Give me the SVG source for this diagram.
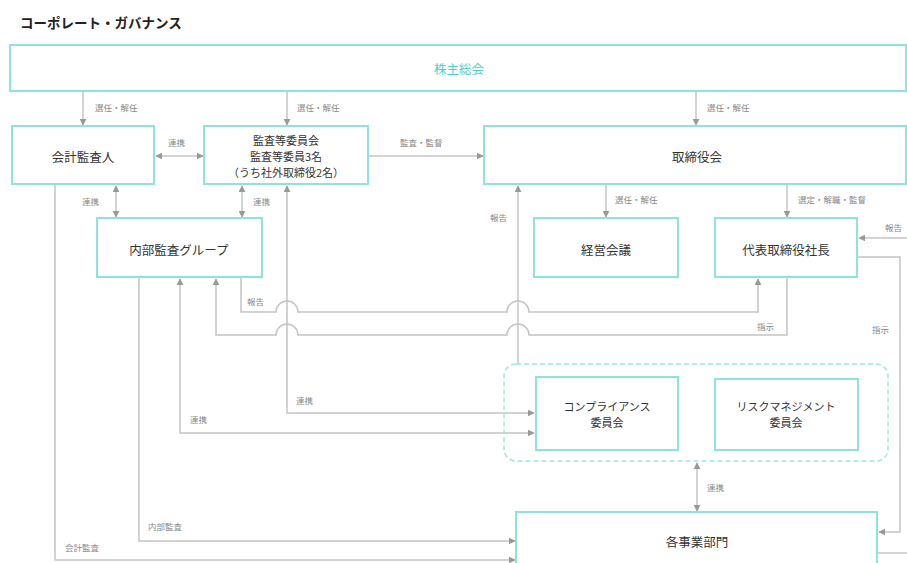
<svg xmlns="http://www.w3.org/2000/svg" width="907" height="563" viewBox="0 0 907 563">
<defs>
<style>
.box{fill:#fff;stroke:#8ee3db;stroke-width:2}
.grp{fill:none;stroke:#9fe6df;stroke-width:1.5;stroke-dasharray:5 3}
.t{font-family:"Noto Sans CJK JP","Liberation Sans",sans-serif;font-size:12.5px;fill:#333;text-anchor:middle;dominant-baseline:central}
.t2{font-size:11px}
.lb{font-family:"Noto Sans CJK JP","Liberation Sans",sans-serif;font-size:8.5px;fill:#888}
.c{fill:none;stroke:#c4c4c4;stroke-width:1.5}
</style>
<marker id="a" viewBox="0 0 10 10" refX="9" refY="5" markerWidth="7" markerHeight="7" markerUnits="userSpaceOnUse" orient="auto-start-reverse">
<path d="M0,0 L10,5 L0,10 Z" fill="#999"/>
</marker>
</defs>
<rect width="907" height="563" fill="#fff"/>
<text x="20" y="28" font-family="'Noto Sans CJK JP','Liberation Sans',sans-serif" font-size="13.5" font-weight="bold" fill="#222">コーポレート・ガバナンス</text>

<g id="connectors">
<path class="c" d="M83,91 V125" marker-end="url(#a)"/>
<text class="lb" x="95" y="111">選任・解任</text>
<path class="c" d="M287,91 V125" marker-end="url(#a)"/>
<text class="lb" x="297" y="111">選任・解任</text>
<path class="c" d="M696,91 V125" marker-end="url(#a)"/>
<text class="lb" x="707" y="111">選任・解任</text>

<path class="c" d="M156,156 H203" marker-start="url(#a)" marker-end="url(#a)"/>
<text class="lb" x="168" y="146">連携</text>
<path class="c" d="M368,156 H483" marker-end="url(#a)"/>
<text class="lb" x="400" y="146">監査・監督</text>

<path class="c" d="M116,186 V217" marker-start="url(#a)" marker-end="url(#a)"/>
<text class="lb" x="82" y="205">連携</text>
<path class="c" d="M242,186 V217" marker-start="url(#a)" marker-end="url(#a)"/>
<text class="lb" x="253" y="205">連携</text>

<path class="c" d="M606,184 V217" marker-end="url(#a)"/>
<text class="lb" x="615" y="203">選任・解任</text>
<path class="c" d="M787,184 V217" marker-end="url(#a)"/>
<text class="lb" x="798" y="203">選定・解職・監督</text>

<path class="c" d="M907,238 H859" marker-end="url(#a)"/>
<text class="lb" x="885" y="231">報告</text>
<path class="c" d="M857,257 H900 V532 H879" marker-end="url(#a)"/>
<text class="lb" x="872" y="333">指示</text>

<path class="c" d="M518,364 V186" marker-end="url(#a)"/>
<text class="lb" x="490" y="221">報告</text>

<path class="c" d="M241,277 V312 H276 A11,11 0 0 1 298,312 H507 A11,11 0 0 1 529,312 H758 V279" marker-end="url(#a)"/>
<text class="lb" x="247" y="305">報告</text>
<path class="c" d="M787,277 V335 H529 A11,11 0 0 0 507,335 H298 A11,11 0 0 0 276,335 H216 V279" marker-end="url(#a)"/>
<text class="lb" x="757" y="330">指示</text>

<path class="c" d="M287,186 V413 H534" marker-start="url(#a)" marker-end="url(#a)"/>
<text class="lb" x="296" y="404">連携</text>
<path class="c" d="M180,279 V433 H534" marker-start="url(#a)" marker-end="url(#a)"/>
<text class="lb" x="190" y="423">連携</text>

<path class="c" d="M139,277 V541 H515" marker-end="url(#a)"/>
<text class="lb" x="148" y="530">内部監査</text>
<path class="c" d="M55,184 V560 H515" marker-end="url(#a)"/>
<text class="lb" x="65" y="551">会計監査</text>

<path class="c" d="M697,463 V511" marker-start="url(#a)" marker-end="url(#a)"/>
<text class="lb" x="707" y="491">連携</text>
<path class="c" d="M877,553 H907"/>
</g>

<g id="kabunushi">
<rect class="box" x="10" y="45" width="896" height="46"/>
<text class="t" x="459" y="68" style="fill:#4fd0c4">株主総会</text>
</g>
<g id="kaikei">
<rect class="box" x="12" y="126" width="142" height="58"/>
<text class="t" x="83" y="156">会計監査人</text>
</g>
<g id="kansa">
<rect class="box" x="204" y="126" width="164" height="58"/>
<text class="t t2" x="286" y="140">監査等委員会</text>
<text class="t t2" x="286" y="156">監査等委員3名</text>
<text class="t t2" x="286" y="172">（うち社外取締役2名）</text>
</g>
<g id="torishimari">
<rect class="box" x="484" y="126" width="422" height="58"/>
<text class="t" x="697" y="156">取締役会</text>
</g>
<g id="naibu">
<rect class="box" x="97" y="218" width="165" height="59"/>
<text class="t" x="179" y="249">内部監査グループ</text>
</g>
<g id="keiei">
<rect class="box" x="534" y="218" width="144" height="59"/>
<text class="t" x="606" y="249">経営会議</text>
</g>
<g id="daihyo">
<rect class="box" x="715" y="218" width="142" height="59"/>
<text class="t" x="786" y="249">代表取締役社長</text>
</g>
<g id="iinkai-group">
<rect class="grp" x="504" y="364" width="384" height="97" rx="12" ry="12"/>
</g>
<g id="compliance">
<rect class="box" x="536" y="377" width="142" height="73"/>
<text class="t t2" x="607" y="406">コンプライアンス</text>
<text class="t t2" x="607" y="422">委員会</text>
</g>
<g id="risk">
<rect class="box" x="715" y="379" width="143" height="71"/>
<text class="t t2" x="786" y="406">リスクマネジメント</text>
<text class="t t2" x="786" y="422">委員会</text>
</g>
<g id="jigyo">
<rect class="box" x="516" y="512" width="361" height="60"/>
<text class="t" x="697" y="541">各事業部門</text>
</g>
</svg>
